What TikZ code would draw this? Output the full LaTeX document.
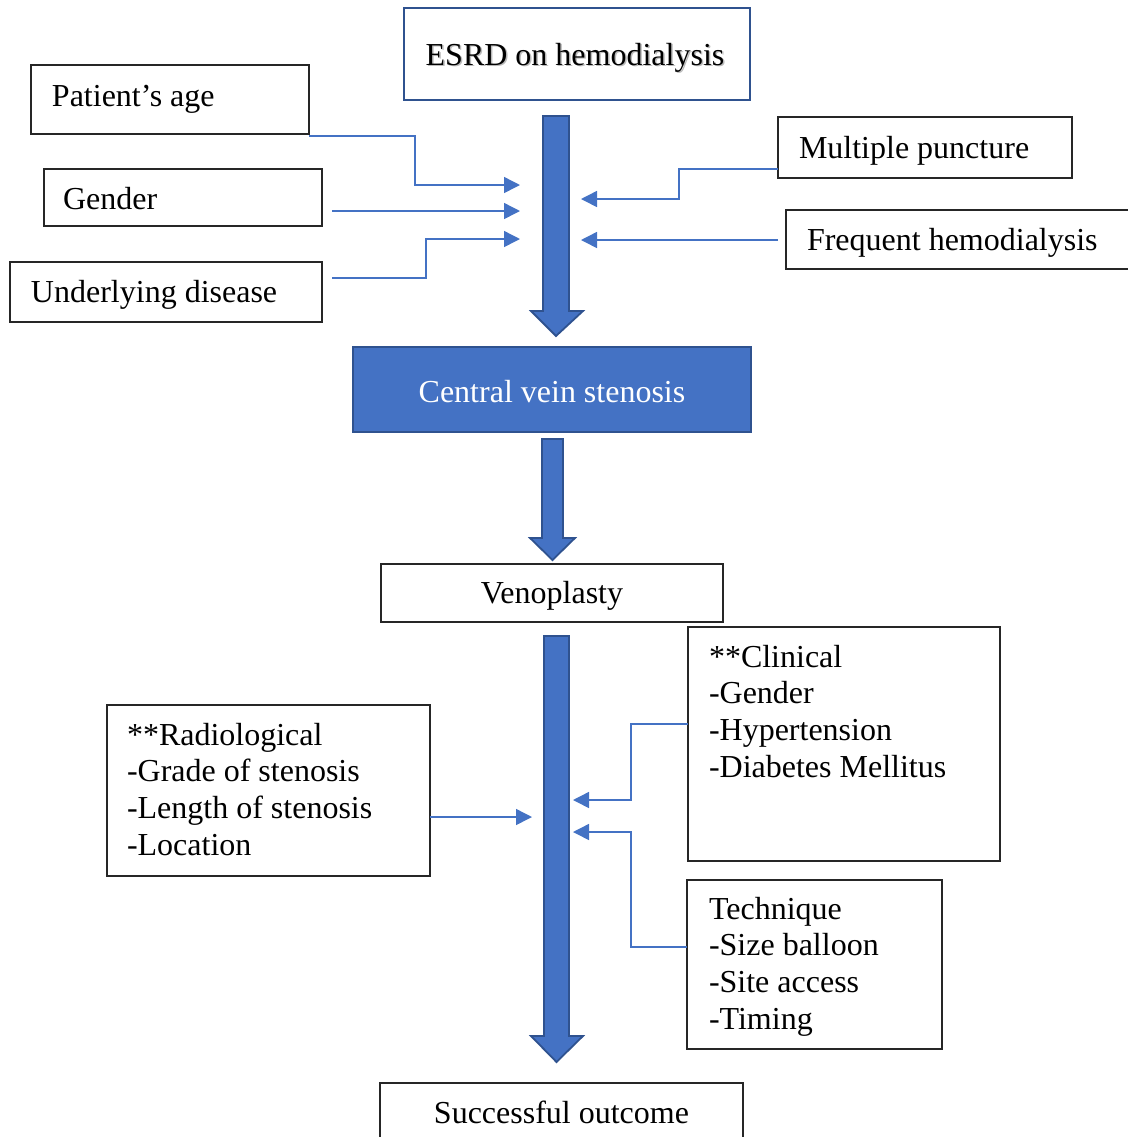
\documentclass[tikz,border=0pt]{standalone}
\usepackage{fontspec}
\setmainfont{Liberation Serif}
\usetikzlibrary{arrows.meta}
\definecolor{accent}{HTML}{4472C4}
\definecolor{accentdark}{HTML}{2F528F}
\newcommand\mylines[1]{\begin{tabular}[t]{@{}l@{}}#1\end{tabular}}
\begin{document}
\begin{tikzpicture}[x=0.5pt,y=-0.5pt,
  every node/.style={font=\fontsize{16}{18.35}\selectfont, inner sep=0pt, outer sep=0pt},
  box/.style={draw=black!85, line width=0.65pt, rectangle},
  bluebox/.style={draw=accentdark, line width=1pt, fill=accent, rectangle},
  esrdbox/.style={draw=accentdark, line width=1pt, rectangle},
  txt/.style={anchor=base west},
  ctxt/.style={anchor=base},
  conn/.style={draw=accent, line width=0.75pt, -{Triangle[length=8pt,width=8pt]}},
  bigarrow/.style={fill=accent, draw=accentdark, line width=0.9pt, line join=miter}
]
\useasboundingbox (0,0) rectangle (1128,1137);

% boxes
\node[esrdbox, minimum width=173pt, minimum height=46pt] (esrd) at (577,54) {};
\node[box, minimum width=139pt, minimum height=34.5pt] (age) at (170,99.5) {};
\node[box, minimum width=139pt, minimum height=28.5pt] (gender) at (183,197.5) {};
\node[box, minimum width=156pt, minimum height=30pt] (und) at (166,292) {};
\node[box, minimum width=147pt, minimum height=30.5pt] (mult) at (925,147.5) {};
\node[box, minimum width=177pt, minimum height=29.5pt] (freq) at (963,239.5) {};
\node[bluebox, minimum width=199pt, minimum height=42.5pt] (cvs) at (552,389.5) {};
\node[box, minimum width=171pt, minimum height=29pt] (veno) at (552,593) {};
\node[box, minimum width=161.5pt, minimum height=85.5pt] (rad) at (268.5,790.5) {};
\node[box, minimum width=156pt, minimum height=117pt] (clin) at (844,744) {};
\node[box, minimum width=127.5pt, minimum height=84.5pt] (tech) at (814.5,964.5) {};
\node[box, minimum width=181.5pt, minimum height=33.5pt] (succ) at (561.5,1116.5) {};

% texts
\node[ctxt, text=black!45, opacity=0.6] (esrdshadow) at (576.5,66.5) {ESRD on hemodialysis};
\node[ctxt] (esrdtxt) at (575,65) {ESRD on hemodialysis};
\node[txt] (agetxt) at (52,106) {Patient’s age};
\node[txt] (gendertxt) at (63,209) {Gender};
\node[txt] (undtxt) at (31,302) {Underlying disease};
\node[txt] (multtxt) at (799,158) {Multiple puncture};
\node[txt] (freqtxt) at (807,250) {Frequent hemodialysis};
\node[ctxt, text=white] (cvstxt) at (552,402) {Central vein stenosis};
\node[ctxt] (venotxt) at (552,603) {Venoplasty};
\node[txt] (radtxt) at (127,745) {\mylines{**Radiological\\-Grade of stenosis\\-Length of stenosis\\-Location}};
\node[txt] (clintxt) at (709,667) {\mylines{**Clinical\\-Gender\\-Hypertension\\-Diabetes Mellitus}};
\node[txt] (techtxt) at (709,919) {\mylines{Technique\\-Size balloon\\-Site access\\-Timing}};
\node[ctxt] (succtxt) at (561.5,1123) {Successful outcome};

% big block arrows
\draw[bigarrow] (543,116) -- (569,116) -- (569,311) -- (583,311) -- (556,336) -- (531,311) -- (543,311) -- cycle;
\draw[bigarrow] (542,439) -- (563,439) -- (563,538) -- (575,538) -- (552.5,560) -- (530,538) -- (542,538) -- cycle;
\draw[bigarrow] (544,636) -- (569,636) -- (569,1036) -- (583,1036) -- (556.5,1062) -- (531,1036) -- (544,1036) -- cycle;

% connector end points
\coordinate (ageA) at (520,185);
\coordinate (genS) at (332,211);
\coordinate (genA) at (520,211);
\coordinate (undS) at (332,278);
\coordinate (undA) at (520,239);
\coordinate (multS) at (778,169);
\coordinate (multA) at (581,199);
\coordinate (freqS) at (778,240);
\coordinate (freqA) at (581,240);
\coordinate (radS) at (430,817);
\coordinate (radA) at (532,817);
\coordinate (clinS) at (688,724);
\coordinate (clinA) at (573,800);
\coordinate (techS) at (688,947);
\coordinate (techA) at (573,832);

% thin connectors
\draw[conn] ([yshift=-1pt]age.south east) -| (415,185) -- (ageA);
\draw[conn] (genS) -- (genA);
\draw[conn] (undS) -| (426,239) -- (undA);
\draw[conn] (mult.west |- multS) -| (679,199) -- (multA);
\draw[conn] (freqS) -- (freqA);
\draw[conn] (rad.east |- radS) -- (radA);
\draw[conn] (clin.west |- clinS) -| (631,800) -- (clinA);
\draw[conn] (tech.west |- techS) -| (631,832) -- (techA);
\end{tikzpicture}
\end{document}
